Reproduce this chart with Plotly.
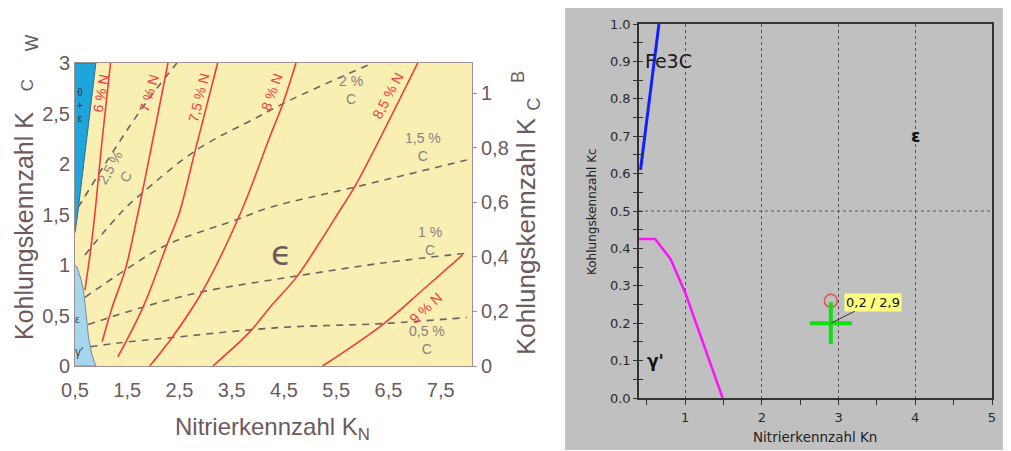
import plotly.graph_objects as go

# page has an 8px body margin: figure is placed at (8, 8) inside the 1011x451 window
OFF = 8
FW, FH = 1011 - OFF, 451 - OFF


def fx(px):
    return (px - OFF) / FW


def fy(py):
    return (FH - (py - OFF)) / FH


# ---------------- Left chart data (Kohlungskennzahl vs Nitrierkennzahl) ----------------
n6_x = [0.69, 0.80, 0.88, 1.02, 1.18]
n6_y = [0.75, 1.15, 1.50, 2.24, 3.00]
n7_x = [1.02, 1.21, 1.46, 1.70, 1.99, 2.28]
n7_y = [0.24, 0.58, 0.95, 1.50, 2.24, 3.00]
n75_x = [1.32, 1.80, 2.26, 2.50, 2.79, 3.23]
n75_y = [0.09, 0.58, 1.20, 1.52, 2.11, 3.00]
n8_x = [1.93, 2.37, 2.93, 3.69, 4.23, 4.48, 4.73]
n8_y = [0.00, 0.29, 0.73, 1.54, 2.27, 2.60, 3.00]
n85_x = [3.14, 3.85, 4.23, 4.74, 5.18, 5.57, 5.85, 7.06]
n85_y = [0.00, 0.34, 0.58, 0.88, 1.22, 1.54, 1.77, 3.00]
n9_x = [5.24, 6.39, 7.15, 7.92]
n9_y = [0.00, 0.41, 0.75, 1.10]

c05_x = [0.79, 1.36, 2.32, 4.40, 6.39, 8.00]
c05_y = [0.19, 0.23, 0.28, 0.38, 0.42, 0.48]
c1_x = [0.75, 1.78, 2.89, 4.61, 6.39, 8.05]
c1_y = [0.41, 0.58, 0.73, 0.88, 1.02, 1.12]
c15_x = [0.69, 1.46, 2.26, 3.60, 4.23, 5.85, 8.00]
c15_y = [0.68, 0.95, 1.20, 1.45, 1.57, 1.77, 2.04]
c2_x = [0.69, 1.42, 1.78, 2.83, 3.98, 4.61, 6.20]
c2_y = [1.10, 1.54, 1.71, 2.14, 2.46, 2.63, 3.00]
c25_x = [0.56, 1.04, 1.78, 2.45]
c25_y = [1.57, 1.97, 2.55, 3.00]

theta_x = [0.50, 0.90, 0.55, 0.50]
theta_y = [3.00, 3.00, 1.50, 1.32]
gamma_x = [0.50, 0.54, 0.62, 0.66, 0.69, 0.72, 0.76, 0.82, 0.90, 0.50]
gamma_y = [1.00, 0.98, 0.85, 0.75, 0.62, 0.45, 0.28, 0.12, 0.00, 0.00]

n_labels = ["6 % N", "7 % N", "7,5 % N", "8 % N", "8,5 % N", "9 % N"]
n_label_x = [1.00, 1.92, 2.88, 4.27, 6.50, 7.22]
n_label_y = [2.70, 2.70, 2.66, 2.71, 2.68, 0.57]
n_label_angle = [-80, -74, -76, -70, -62, -42]

c_labels = ["2,5 %<br>C", "2 %<br>C", "1,5 %<br>C", "1 %<br>C", "0,5 %<br>C"]
c_label_x = [1.32, 5.78, 7.17, 7.29, 7.23]
c_label_y = [1.92, 2.73, 2.17, 1.24, 0.26]
c_label_angle = [-60, 0, 0, 0, 0]

left_xticks = [0.5, 1.5, 2.5, 3.5, 4.5, 5.5, 6.5, 7.5]
left_xtext = ["0,5", "1,5", "2,5", "3,5", "4,5", "5,5", "6,5", "7,5"]
left_yticks = [0, 0.5, 1, 1.5, 2, 2.5, 3]
left_ytext = ["0", "0,5", "1", "1,5", "2", "2,5", "3"]
right_yticks = [0, 0.2, 0.4, 0.6, 0.8, 1.0]
right_ytext = ["0", "0,2", "0,4", "0,6", "0,8", "1"]

# ---------------- Right chart data ----------------
fe3c_x = [0.42, 0.66]
fe3c_y = [0.61, 1.00]
gam_x = [0.40, 0.61, 0.81, 1.00, 1.49]
gam_y = [0.425, 0.425, 0.372, 0.283, 0.00]
point_kn = [2.9]
point_kc = [0.2]
target_kn = [2.9]
target_kc = [0.26]

# ---------------- styles ----------------
BROWN = "#6e5a5a"
RED = "#f03c3c"
DASH = "#6a6464"
FONT = "Liberation Sans"
WFONT = "DejaVu Sans"
NB = "\u00a0"

fig = go.Figure()

# left chart: phase regions
fig.add_trace(go.Scatter(x=theta_x, y=theta_y, fill="toself", fillcolor="#1ea6dc",
                         line=dict(color="#3a6a8a", width=1), mode="lines",
                         xaxis="x", yaxis="y", hoverinfo="skip"))
fig.add_trace(go.Scatter(x=gamma_x, y=gamma_y, fill="toself", fillcolor="#a6d6ee",
                         line=dict(color="#7a8a9a", width=1), mode="lines",
                         xaxis="x", yaxis="y", hoverinfo="skip"))

for xs, ys in [(c05_x, c05_y), (c1_x, c1_y), (c15_x, c15_y), (c2_x, c2_y), (c25_x, c25_y)]:
    fig.add_trace(go.Scatter(x=xs, y=ys, mode="lines", line=dict(color=DASH, width=1.6, dash="7px,6px", shape="spline"),
                             xaxis="x", yaxis="y", hoverinfo="skip"))
for xs, ys in [(n6_x, n6_y), (n7_x, n7_y), (n75_x, n75_y), (n8_x, n8_y), (n85_x, n85_y), (n9_x, n9_y)]:
    fig.add_trace(go.Scatter(x=xs, y=ys, mode="lines", line=dict(color=RED, width=1.6, shape="spline"),
                             xaxis="x", yaxis="y", hoverinfo="skip"))
# keep secondary axis alive
fig.add_trace(go.Scatter(x=[], y=[], xaxis="x", yaxis="y2", showlegend=False))

# right chart traces
fig.add_trace(go.Scatter(x=fe3c_x, y=fe3c_y, mode="lines", line=dict(color="#1020ff", width=3),
                         xaxis="x2", yaxis="y3", hoverinfo="skip"))
fig.add_trace(go.Scatter(x=gam_x, y=gam_y, mode="lines", line=dict(color="#ff10ff", width=2.5),
                         xaxis="x2", yaxis="y3", hoverinfo="skip"))
fig.add_trace(go.Scatter(x=target_kn, y=target_kc, mode="markers",
                         marker=dict(symbol="circle-open", size=13, color="#e05050", line=dict(width=1.5)),
                         xaxis="x2", yaxis="y3", hoverinfo="skip"))
fig.add_trace(go.Scatter(x=point_kn, y=point_kc, mode="markers",
                         marker=dict(symbol="cross-thin", size=30, line=dict(width=4, color="#10e010")),
                         xaxis="x2", yaxis="y3", hoverinfo="skip"))
fig.add_trace(go.Scatter(x=[], y=[], xaxis="x2", yaxis="y4", showlegend=False))

shapes = [
    dict(type="rect", xref="paper", yref="paper", x0=fx(565), x1=fx(1005), y0=fy(450), y1=fy(8),
         fillcolor="#c0c0c0", line=dict(width=0), layer="below"),
    dict(type="rect", xref="x domain", yref="y domain", x0=0, x1=1, y0=0, y1=1,
         fillcolor="#f9efb2", line=dict(width=0), layer="below"),
    dict(type="line", xref="x2 domain", yref="y3", x0=0, x1=1, y0=0.5, y1=0.5,
         line=dict(color="#555", width=1, dash="dot"), layer="below"),
]

ann = []
for t, x, y, a in zip(n_labels, n_label_x, n_label_y, n_label_angle):
    ann.append(dict(text=t, x=x, y=y, xref="x", yref="y", showarrow=False, textangle=a,
                    font=dict(family=FONT, size=14, color=RED)))
for t, x, y, a in zip(c_labels, c_label_x, c_label_y, c_label_angle):
    ann.append(dict(text=t, x=x, y=y, xref="x", yref="y", showarrow=False, textangle=a,
                    font=dict(family=FONT, size=14, color="#8a8080")))
ann += [
    dict(text="ϵ", x=4.45, y=1.12, xref="x", yref="y", showarrow=False,
         font=dict(family="DejaVu Sans", size=34, color=BROWN)),
    dict(text="θ<br>+<br>ε", x=0.6, y=2.58, xref="x", yref="y", showarrow=False,
         font=dict(family=FONT, size=10, color="#333")),
    dict(text="ε", x=0.55, y=0.46, xref="x", yref="y", showarrow=False,
         font=dict(family=FONT, size=10, color="#444")),
    dict(text="γ'", x=0.57, y=0.14, xref="x", yref="y", showarrow=False,
         font=dict(family=FONT, size=12, color="#444")),
    # titles left chart
    dict(text="Kohlungskennzahl K" + NB * 3 + "<span style='font-size:17px'>C</span>" + NB * 4 + "<sub>W</sub>",
         x=fx(26), y=fy(187), xref="paper", yref="paper",
         showarrow=False, textangle=-90, font=dict(family=FONT, size=25, color=BROWN)),
    dict(text="Kohlungskennzahl K" + NB + "<sub>C</sub>" + NB + NB + "<sup>B</sup>",
         x=fx(526), y=fy(213), xref="paper", yref="paper",
         showarrow=False, textangle=-90, font=dict(family=FONT, size=26, color=BROWN)),
    dict(text="Nitrierkennzahl K<sub>N</sub>", x=fx(272), y=fy(428), xref="paper", yref="paper",
         showarrow=False, font=dict(family=FONT, size=24, color=BROWN)),
    # right chart labels
    dict(text="Fe3C", x=0.45, y=0.9, xref="x2", yref="y3", showarrow=False, xanchor="left",
         font=dict(family=WFONT, size=19, color="#1a1a1a")),
    dict(text="<b>ε</b>", x=4.0, y=0.70, xref="x2", yref="y3", showarrow=False,
         font=dict(family=WFONT, size=17, color="#111")),
    dict(text="<b>γ'</b>", x=0.62, y=0.10, xref="x2", yref="y3", showarrow=False,
         font=dict(family=WFONT, size=17, color="#111")),
    dict(text="0,2 / 2,9", x=point_kn[0], y=point_kc[0], xref="x2", yref="y3", showarrow=True,
         arrowhead=0, arrowwidth=1, arrowcolor="#333", ax=42, ay=-21, bgcolor="#ffff80",
         borderpad=1, font=dict(family=WFONT, size=13, color="#111")),
    dict(text="Kohlungskennzahl Kc", x=fx(592), y=fy(212), xref="paper", yref="paper",
         showarrow=False, textangle=-90, font=dict(family=WFONT, size=12, color="#222")),
    dict(text="Nitrierkennzahl Kn", x=fx(815), y=fy(437), xref="paper", yref="paper",
         showarrow=False, font=dict(family=WFONT, size=13.5, color="#222")),
]
for a in ann:
    a.setdefault("xanchor", "center")
    a.setdefault("yanchor", "middle")

fig.update_layout(
    width=FW, height=FH, margin=dict(l=0, r=0, t=0, b=0, autoexpand=False),
    paper_bgcolor="white", plot_bgcolor="rgba(0,0,0,0)", showlegend=False,
    shapes=shapes, annotations=ann,
    xaxis=dict(domain=[fx(75), fx(472)], range=[0.5, 8.1], anchor="y", automargin=False,
               tickvals=left_xticks, ticktext=left_xtext, ticks="", ticklabelstandoff=6,
               showgrid=False, zeroline=False, showline=True, linecolor="#a09090", linewidth=1, mirror=True,
               tickfont=dict(family=FONT, size=20, color=BROWN)),
    yaxis=dict(domain=[fy(366), fy(63)], range=[0, 3], anchor="x", automargin=False,
               tickvals=left_yticks, ticktext=left_ytext, ticks="",
               showgrid=False, zeroline=False, showline=True, linecolor="#a09090", linewidth=1,
               tickfont=dict(family=FONT, size=20, color=BROWN)),
    yaxis2=dict(overlaying="y", side="right", anchor="x", range=[0, 1.11], automargin=False,
                tickvals=right_yticks, ticktext=right_ytext, ticks="outside", ticklen=4, tickcolor="#a09090",
                showgrid=False, zeroline=False, showline=True, linecolor="#a09090",
                tickfont=dict(family=FONT, size=20, color=BROWN)),
    xaxis2=dict(domain=[fx(639), fx(992)], range=[0.4, 5], anchor="y3", automargin=False,
                dtick=1, tick0=0, ticks="outside", ticklen=5, tickcolor="#333", ticklabelstandoff=2,
                minor=dict(dtick=0.5, tick0=0, ticks="outside", ticklen=5, tickcolor="#333", showgrid=False),
                showgrid=True, gridcolor="#555", griddash="dot", gridwidth=1,
                zeroline=False, showline=True, linecolor="#333", linewidth=1.5, mirror=True,
                tickfont=dict(family=WFONT, size=13, color="#2a2a2a")),
    yaxis3=dict(domain=[fy(398), fy(24)], range=[0, 1], anchor="x2", automargin=False,
                dtick=0.1, tick0=0, tickformat=".1f", ticks="outside", ticklen=4, tickcolor="#333",
                minor=dict(dtick=0.05, tick0=0, ticks="outside", ticklen=4, tickcolor="#333", showgrid=False),
                showgrid=False, zeroline=False, showline=True, linecolor="#333", linewidth=1.5, mirror=True,
                tickfont=dict(family=WFONT, size=13, color="#2a2a2a")),
    yaxis4=dict(overlaying="y3", anchor="x2", side="left", range=[0, 1], dtick=0.05, tick0=0, automargin=False,
                ticks="inside", ticklen=4, tickcolor="#333", showticklabels=False,
                showgrid=False, zeroline=False, showline=False),
)

fig.write_html("out.html")
